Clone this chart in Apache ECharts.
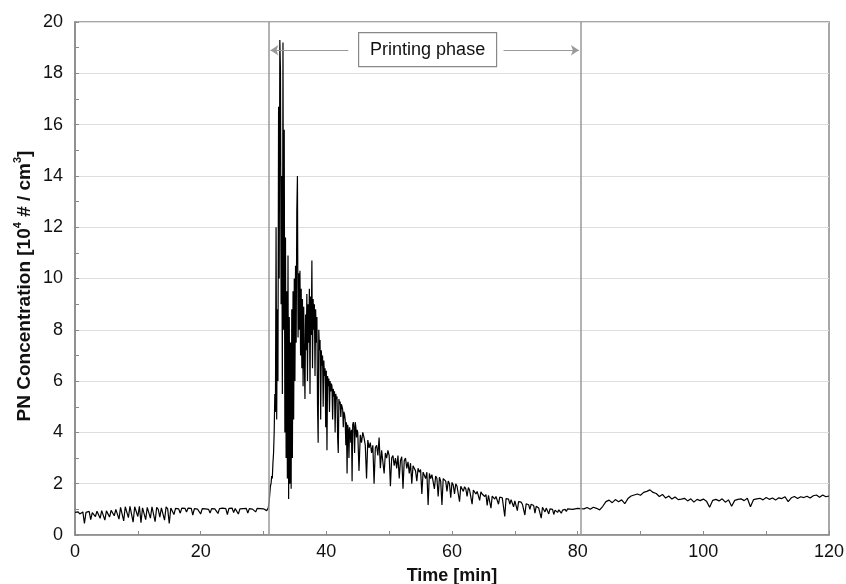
<!DOCTYPE html>
<html>
<head>
<meta charset="utf-8">
<script src="https://cdn.jsdelivr.net/npm/echarts@6/dist/echarts.min.js"></script>
<style>
  html, body { margin: 0; padding: 0; background: #fff; }
  #chart { width: 846px; height: 584px; }
</style>
</head>
<body>
<div id="chart"></div>
<script>
// PN concentration over time
// before printing (0 .. 30.75 min, every 0.25 min)
const baseStart = 0, baseStep = 0.25
const baseVals = [
  0.88, 0.85, 0.9, 0.82, 0.86, 0.9, 0.45, 0.88, 0.84, 0.92, 0.6, 0.87,
  0.9, 0.72, 0.93, 0.88, 0.65, 0.95, 0.9, 0.58, 0.94, 0.92, 0.7, 0.96,
  0.98, 0.75, 1.0, 1.05, 0.62, 1.08, 1.02, 0.55, 1.1, 1.04, 0.68, 1.12,
  1.08, 0.5, 1.1, 1.05, 0.72, 1.12, 0.48, 1.06, 1.1, 0.6, 1.08, 1.02,
  0.66, 1.1, 1.05, 0.52, 1.08, 1.0, 0.7, 1.06, 1.04, 0.58, 1.1, 1.02,
  0.45, 1.05, 1.03, 0.8, 1.04, 1.06, 1.02, 0.85, 1.05, 1.03, 1.04, 0.9,
  1.05, 1.02, 1.04, 0.78, 1.03, 1.05, 1.01, 1.04, 0.82, 1.03, 1.05, 1.02,
  1.04, 1.0, 0.86, 1.03, 1.05, 1.02, 1.04, 0.84, 1.03, 1.02, 1.05, 1.0,
  1.03, 0.8, 1.04, 1.02, 1.05, 0.88, 1.03, 1.04, 0.82, 1.02, 1.05, 1.03,
  1.02, 1.04, 0.86, 1.03, 1.05, 1.01, 1.03, 0.9, 1.04, 1.02, 1.03, 1.0,
  1.02, 1.0, 0.95, 1.05
]
// burst at the start of printing (30.8 .. 44.9 min, every 0.1 min)
const peakStart = 30.8, peakStep = 0.1
const peakVals = [
  1.1, 1.3,
  1.6, 1.9, 2.0, 2.3, 2.2, 2.8, 3.2, 4.0, 5.5, 4.8,
  12.0, 4.5, 8.8, 6.0, 16.7, 10.0, 19.3, 18.1, 9.0, 14.0,
  5.5, 19.2, 8.0, 15.8, 4.0, 11.6, 3.0, 9.5, 2.2, 10.9,
  1.4, 8.5, 2.0, 7.5, 1.8, 8.8, 3.0, 9.5, 4.5, 10.0,
  6.0, 10.5, 7.5, 12.6, 14.0, 7.7, 10.2, 8.0, 10.3, 7.0,
  9.6, 6.5, 9.2, 5.8, 8.9, 6.8, 5.3, 8.6, 7.2, 9.4,
  6.0, 9.0, 7.5, 9.6, 5.5, 9.3, 7.8, 10.7, 6.5, 9.2,
  8.0, 9.0, 6.2, 8.8, 7.5, 8.5, 5.0, 3.6, 8.0, 7.2,
  7.6, 4.5, 7.2, 6.6, 7.0, 5.0, 6.8, 6.2, 6.5, 4.2,
  6.4, 3.3, 6.2, 5.8, 6.1, 4.8, 6.0, 5.6, 5.9, 5.8,
  4.5, 5.7, 5.4, 5.6, 4.0, 5.5, 5.3, 5.4, 3.8, 3.2,
  5.3, 5.1, 5.2, 4.6, 5.1, 5.0, 4.9, 4.2, 4.8, 4.7,
  4.5, 3.5, 4.4, 2.4, 4.3, 4.1, 3.0, 4.2, 4.0, 3.6,
  4.1, 2.1, 4.3, 4.4, 4.2, 3.2, 4.4, 4.2, 3.8, 4.1
]
// decay (45.0 .. 80.4 min, every 0.2 min)
const decayStart = 45.0, decayStep = 0.2
const decayVals = [
  4.0, 2.5, 3.9, 3.6, 4.0,
  3.8, 3.5, 2.2, 3.7, 3.4,
  3.6, 3.2, 3.5, 2.0, 3.4,
  3.5, 3.1, 3.8, 2.6, 3.3,
  3.3, 2.4, 3.2, 3.0, 3.3,
  3.1, 1.9, 3.0, 3.1, 2.7,
  3.0, 2.6, 3.1, 2.2, 2.9,
  3.05, 1.8, 2.9, 3.0, 2.6,
  2.85, 2.4, 2.8, 2.0, 2.7,
  2.65, 2.5, 2.1, 2.6, 2.45,
  2.55, 1.6, 2.45, 2.5, 2.2,
  2.45, 1.17, 2.4, 2.2, 2.35,
  2.3, 1.8, 2.3, 2.2, 1.5,
  2.25, 2.1, 1.17, 2.2, 2.15,
  2.1, 1.7, 2.1, 2.0, 1.45,
  2.05, 1.95, 1.6, 2.0, 1.9,
  1.95, 1.3, 1.9, 1.85, 1.7,
  1.88, 1.8, 1.5, 1.85, 1.75,
  1.78, 1.2, 1.75, 1.7, 1.6,
  1.7, 1.65, 1.35, 1.68, 1.6,
  1.62, 1.5, 1.58, 1.15, 1.55,
  1.56, 1.05, 1.52, 1.5, 1.4,
  1.5, 1.45, 1.2, 1.48, 1.42,
  1.45, 1.38, 0.72, 1.42, 1.35,
  1.4, 1.2, 1.38, 1.33, 1.1,
  1.33, 1.3, 0.95, 1.3, 1.25,
  1.28, 1.2, 1.26, 0.78, 1.22,
  1.22, 1.18, 1.0, 1.2, 1.15,
  1.15, 0.85, 1.12, 1.1, 1.05,
  1.1, 0.66, 1.08, 1.05, 0.9,
  1.05, 1.0, 0.82, 1.02, 0.98,
  1.0, 0.8, 0.97, 0.95, 0.88,
  0.98, 0.95, 0.85, 0.97, 1.0,
  1.0, 0.92, 1.02, 0.98, 1.01,
  1.03, 1.0, 1.04, 1.02, 1.05,
  1.04, 1.05, 1.03
]
// after printing (80.5 .. 120 min, every 0.5 min)
const tailStart = 80.5, tailStep = 0.5
const tailVals = [
  1.05, 1.02, 1.07, 1.0, 1.08, 1.04, 0.98, 1.12,
  1.3, 1.36, 1.26, 1.38, 1.3, 1.37, 1.22, 1.42,
  1.52, 1.56, 1.6, 1.55, 1.66, 1.7, 1.76, 1.66,
  1.62, 1.5, 1.58, 1.44, 1.52, 1.4, 1.48, 1.38,
  1.4, 1.43, 1.33, 1.41, 1.28, 1.39, 1.34, 1.4,
  1.32, 1.08, 1.35, 1.39, 1.33, 1.41, 1.28, 1.37,
  1.12, 1.35, 1.39, 1.41, 1.34, 1.43, 1.1, 1.38,
  1.41, 1.43, 1.37, 1.46, 1.39, 1.44, 1.36, 1.45,
  1.42, 1.49, 1.3, 1.45, 1.5, 1.42, 1.49, 1.46,
  1.51, 1.44, 1.53, 1.56, 1.47, 1.56, 1.49, 1.52
]

const phaseStart = 30.8
const phaseEnd = 80.5
const phaseLabel = 'Printing phase'

function segment(start, step, vals) {
  return vals.map((v, i) => [Math.round((start + i * step) * 100) / 100, v])
}

const seriesData = []
  .concat(segment(baseStart, baseStep, baseVals))
  .concat(segment(peakStart, peakStep, peakVals))
  .concat(segment(decayStart, decayStep, decayVals))
  .concat(segment(tailStart, tailStep, tailVals))

const font = '"Liberation Sans", Arial, sans-serif'
const axisGray = '#8a8a8a'

const chart = echarts.init(document.getElementById('chart'), null, { renderer: 'canvas' })

chart.setOption({
  animation: false,
  backgroundColor: '#fff',
  grid: {
    left: 75,
    right: 17,
    top: 22,
    bottom: 49,
    outerBoundsMode: 'none',
    containLabel: false,
    show: true,
    borderColor: axisGray,
    borderWidth: 1.5,
    backgroundColor: 'transparent'
  },
  xAxis: {
    type: 'value',
    min: 0,
    max: 120,
    interval: 20,
    name: 'Time [min]',
    nameLocation: 'middle',
    nameGap: 32,
    nameTextStyle: { fontFamily: font, fontSize: 18, fontWeight: 'bold', color: '#111' },
    axisLine: { show: true, lineStyle: { color: axisGray, width: 1.5 } },
    axisTick: { show: true, inside: true, length: 4, lineStyle: { color: axisGray } },
    minorTick: { show: true, splitNumber: 2, length: 4, lineStyle: { color: axisGray } },
    axisLabel: { fontFamily: font, fontSize: 18, color: '#111', margin: 8 },
    splitLine: { show: false }
  },
  yAxis: {
    type: 'value',
    min: 0,
    max: 20,
    interval: 2,
    axisLine: { show: true, lineStyle: { color: axisGray, width: 1.5 } },
    axisTick: { show: true, inside: true, length: 4, lineStyle: { color: axisGray } },
    minorTick: { show: true, splitNumber: 2, length: 4, lineStyle: { color: axisGray } },
    axisLabel: { fontFamily: font, fontSize: 18, color: '#111', margin: 12 },
    splitLine: { show: true, lineStyle: { color: '#dedede', width: 1.2 } }
  },
  series: [
    {
      type: 'line',
      data: seriesData,
      showSymbol: false,
      symbol: 'none',
      lineStyle: { color: '#000', width: 1.2 },
      markLine: {
        silent: true,
        animation: false,
        symbol: 'none',
        label: { show: false },
        lineStyle: { color: '#999', width: 1.5, type: 'solid' },
        data: [
          [{ coord: [phaseStart, 0] }, { coord: [phaseStart, 20] }],
          [{ coord: [phaseEnd, 0] }, { coord: [phaseEnd, 20] }],
          [
            { coord: [43.5, 18.9], symbol: 'none', lineStyle: { width: 1.2 } },
            { coord: [phaseStart + 0.3, 18.9], symbol: 'arrow', symbolSize: 8 }
          ],
          [
            { coord: [68.2, 18.9], symbol: 'none', lineStyle: { width: 1.2 } },
            { coord: [phaseEnd - 0.3, 18.9], symbol: 'arrow', symbolSize: 8 }
          ]
        ]
      }
    }
  ],
  graphic: [
    {
      type: 'group',
      left: 358,
      top: 32,
      children: [
        {
          type: 'rect',
          shape: { x: 0, y: 0, width: 138, height: 34 },
          style: { fill: '#fff', stroke: '#888', lineWidth: 1.2 }
        },
        {
          type: 'text',
          x: 69,
          y: 17,
          style: {
            text: phaseLabel,
            font: '18px ' + font,
            fill: '#111',
            align: 'center',
            verticalAlign: 'middle'
          }
        }
      ]
    },
    {
      type: 'text',
      x: 23,
      y: 286,
      rotation: Math.PI / 2,
      style: {
        text: '{b|PN Concentration [10}{s|4}{b| # / cm}{s|3}{b|]}',
        align: 'center',
        verticalAlign: 'middle',
        rich: {
          b: { fontFamily: font, fontSize: 19, fontWeight: 'bold', fill: '#111', lineHeight: 22, verticalAlign: 'bottom' },
          s: { fontFamily: font, fontSize: 11, fontWeight: 'bold', fill: '#111', lineHeight: 22, verticalAlign: 'top' }
        }
      }
    }
  ]
})
</script>
</body>
</html>
